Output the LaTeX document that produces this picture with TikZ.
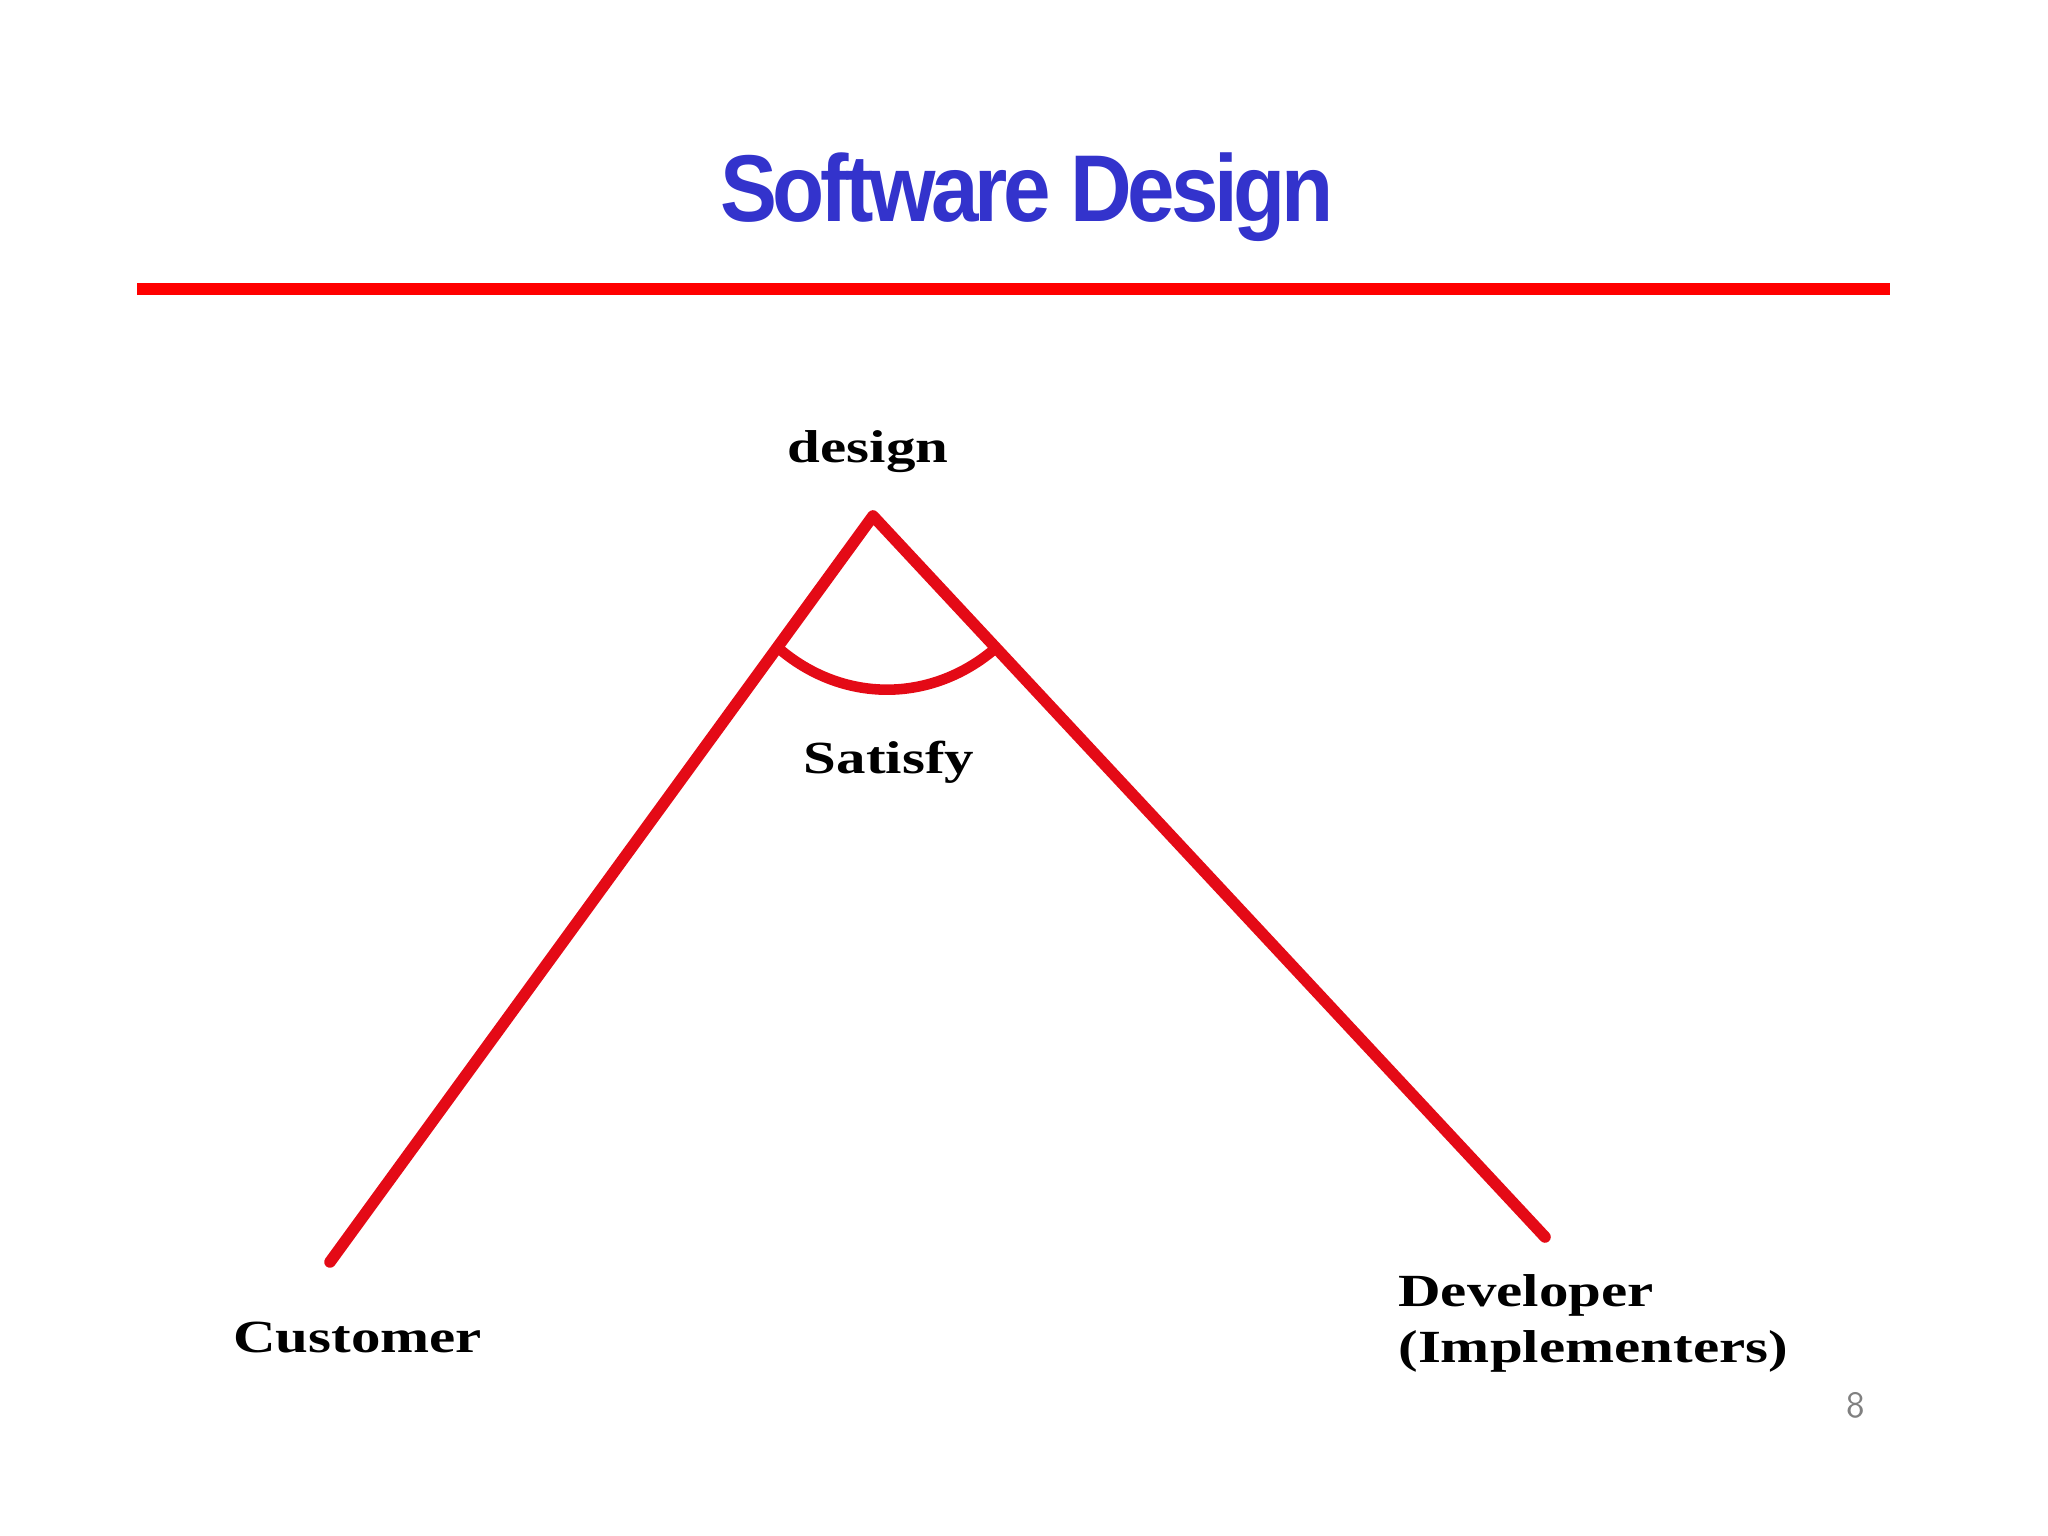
\documentclass[tikz,border=0pt]{standalone}
\usepackage{fontspec}
\usetikzlibrary{calc}

\newfontfamily\titlefont[FakeStretch=0.9, LetterSpace=-4.5]{Liberation Sans}
\newfontfamily\wordfont[FakeStretch=1.28]{Liberation Serif}
\definecolor{titleblue}{RGB}{51,51,204}
\definecolor{linered}{RGB}{228,10,22}

\begin{document}
\begin{tikzpicture}[thick]
                \useasboundingbox (0,0) rectangle (20.48,15.36);
                \tikzset{word/.style={font=\wordfont\fontsize{13.1}{15}\selectfont\bfseries, inner sep=0pt}}

                % Title and rule:
                \node [anchor=base, text=titleblue, font=\titlefont\fontsize{27}{30}\selectfont\bfseries, inner sep=0pt] (title) at (10.27,13.14) {Software Design};
                \coordinate (ruleL) at (1.37,12.47);
                \coordinate (ruleR) at (18.90,12.47);
                \draw [red, line width=0.12cm] (ruleL) -- (ruleR);

                % Corners:
                \coordinate (apex) at (8.73,10.20);
                \coordinate (cust) at (3.30,2.74);
                \coordinate (dev) at (15.45,2.99);
                \draw [linered, line width=3.3pt, line cap=round, line join=round] (cust) -- (apex) -- (dev);

                % Angle between the sides:
                \coordinate (arcL) at ($(apex)!0.176!(cust)$);
                \coordinate (arcR) at ($(apex)!0.183!(dev)$);
                \draw [linered, line width=3pt] (arcL) to [bend right=41] (arcR);

                % Labels:
                \node [word, anchor=base] (design) at (8.68,10.73) {design};
                \node [word, anchor=base] (satisfy) at (8.89,7.62) {Satisfy};
                \node [word, anchor=base west] (customer) at (2.32,1.83) {Customer};
                \node [word, anchor=base west] (developer) at (13.97,2.29) {Developer};
                \node [word, anchor=base west] (implementers) at (13.97,1.73) {(Implementers)};

                % Page number:
                \node [anchor=base west, text=gray, font=\sffamily\fontsize{10.5}{12}\selectfont, inner sep=0pt] (page) at (18.45,1.18) {8};
            \end{tikzpicture}
\end{document}
